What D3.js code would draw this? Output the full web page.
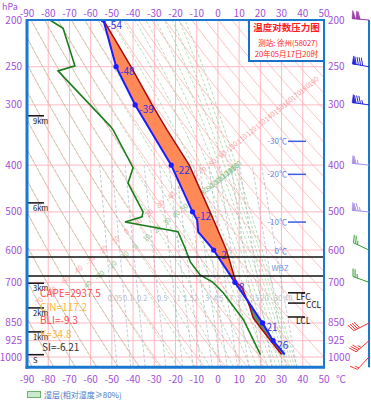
<!DOCTYPE html>
<html lang="zh">
<head>
<meta charset="UTF-8">
<title>温度对数压力图</title>
<style>
    html, body { margin: 0; padding: 0; background: #fff; }
    svg { display: block; font-family: "Noto Sans CJK SC", "Noto Sans", sans-serif; }
</style>
</head>
<body>
<div id="chart"></div>
<script src="https://d3js.org/d3.v7.min.js"></script>
<script>
// ---- values ----
const pressureTicks = [200, 250, 300, 400, 500, 600, 700, 850, 925, 1000];
const tempTicks = [-90, -80, -70, -60, -50, -40, -30, -20, -10, 0, 10, 20, 30, 40, 50];

// environment temperature sounding
const envPressure = [988, 925, 850, 762, 700, 600, 550, 520, 500, 400, 300, 250, 200];
const envTemp = [31.5, 26, 21, 13.8, 8, -2, -9.3, -9.8, -12, -22, -39, -48, -54];
const envMarked = [925, 850, 700, 600, 500, 400, 300, 250, 200];

// dew point
const dewPressure = [988, 908, 837, 736, 700, 676, 635, 594, 550, 525, 512, 500, 436, 405, 338, 332, 255, 249, 208, 200];
const dewTemp = [20, 16, 12, 2.5, -2.3, -8.4, -13, -15.5, -18.8, -43.8, -35.8, -35.3, -42.4, -40, -49.4, -50.8, -75.4, -67.4, -73, -79.2];

// lifted parcel
const parcelPressure = [988, 878, 830, 787, 716, 700, 600, 500, 400, 338, 300, 250, 200];
const parcelTemp = [30, 20.8, 16.6, 15, 11.3, 8.5, 4, -3.7, -13.5, -24, -31, -41, -54];

// background line families
const dryThetas = d3.range(-90, 250, 10);
const moistThetas = d3.range(-90, 170, 10);
const mixRatios = [0.05, 0.1, 0.2, 0.5, 1, 1.5, 2, 3, 4, 5, 7, 10, 15, 20, 30, 40];

// levels
const isoLevelTemps = [-30, -20, -10];
const isoLevelPressures = [357, 418, 525];
const freezingPressure = 620;
const wbzPressure = 679;
const parcelLevelNames = ["LFC", "CCL", "LCL"];
const parcelLevelPressures = [736, 773, 826];
const heightNames = ["9km", "6km", "3km", "2km", "1km", "S"];
const heightPressures = [316, 479, 703, 791, 887, 989];

// indices
const indexNames = ["CAPE", "CIN", "BLI", "K", "SI"];
const indexValues = ["2937.5", "117.2", "-9.3", "34.8", "-6.21"];

// winds (direction deg, speed m/s)
const windPressure = [200, 250, 300, 400, 500, 600, 700, 850, 925, 1000];
const windDir = [275, 280, 278, 276, 275, 295, 290, 243, 229, 223];
const windSpeed = [44, 36, 34, 26, 30, 10, 10, 16, 14, 6];

const stationName = "测站: 徐州(58027)";
const timeLabel = "20年05月17日20时";

// ---- layout ----
const width = 371, height = 400;
const pTop = 200, pBot = 1050;
const x = d3.scaleLinear().domain([-90, 50]).range([27, 324]);
const y = d3.scaleLog().domain([200, 1000]).range([20, 357]);
const xL = x(-90), xR = x(50), yT = y(pTop), yB = y(pBot);

const purple = "#a24fd8";
const K0 = 273.15;

const svg = d3.select("#chart").append("svg")
    .attr("width", width)
    .attr("height", height);

svg.append("defs").append("clipPath").attr("id", "plot")
    .append("rect")
    .attr("x", xL).attr("y", yT)
    .attr("width", xR - xL).attr("height", yB - yT);

// thermodynamics for the background lines
const dryT = (th, p) => (th + K0) * Math.pow(p / 1000, 0.2857) - K0;
const es = t => 6.112 * Math.exp(17.67 * t / (t + 243.5));
function thetaSe(t, p) {
    const e = es(t), r = 622 * e / (p - e), T = t + K0;
    const th = T * Math.pow(1000 / p, 0.2854 * (1 - 0.00028 * r));
    return th * Math.exp((3.376 / T - 0.00254) * r * (1 + 0.00081 * r)) - K0;
}
function moistT(thse, p) {
    const a = Math.log(0.3 * p / 6.112);
    let lo = -130, hi = Math.min(60, 243.5 * a / (17.67 - a));
    if (thetaSe(hi, p) < thse || thetaSe(lo, p) > thse) return NaN;
    for (let i = 0; i < 40; i++) {
        const mid = (lo + hi) / 2;
        if (thetaSe(mid, p) < thse) lo = mid; else hi = mid;
    }
    return (lo + hi) / 2;
}
function mixT(w, p) {
    const e = w * p / (622 + w), a = Math.log(e / 6.112);
    return 243.5 * a / (17.67 - a);
}

const pSteps = d3.range(0, 161).map(i => Math.exp(Math.log(pBot) + (Math.log(pTop) - Math.log(pBot)) * i / 160));
const line = d3.line()
    .defined(d => isFinite(d[1]))
    .x(d => x(d[1]))
    .y(d => y(d[0]));

const bg = svg.append("g").attr("clip-path", "url(#plot)");

// isotherms and isobars
bg.append("g")
    .selectAll("line")
    .data(tempTicks)
    .join("line")
    .attr("x1", d => x(d)).attr("x2", d => x(d))
    .attr("y1", yT).attr("y2", yB)
    .attr("stroke", "#ffb8c2").attr("stroke-width", 1);

bg.append("g")
    .selectAll("line")
    .data(pressureTicks)
    .join("line")
    .attr("x1", xL).attr("x2", xR)
    .attr("y1", d => y(d)).attr("y2", d => y(d))
    .attr("stroke", "#ffb8c2").attr("stroke-width", 1);

// dry adiabats
bg.append("g")
    .selectAll("path")
    .data(dryThetas)
    .join("path")
    .attr("d", th => line(pSteps.map(p => [p, dryT(th, p)])))
    .attr("fill", "none")
    .attr("stroke", "#ffa8a8").attr("stroke-width", 0.7);

// moist adiabats
bg.append("g")
    .selectAll("path")
    .data(moistThetas)
    .join("path")
    .attr("d", th => line(pSteps.map(p => [p, moistT(th, p)])))
    .attr("fill", "none")
    .attr("stroke", "#98cc98").attr("stroke-width", 0.7)
    .attr("stroke-dasharray", "3,2");

// saturation mixing ratio lines
const mixSteps = pSteps.filter(p => p >= 400);
bg.append("g")
    .selectAll("path")
    .data(mixRatios)
    .join("path")
    .attr("d", w => line(mixSteps.map(p => [p, mixT(w, p)])))
    .attr("fill", "none")
    .attr("stroke", "#a9b0c2").attr("stroke-width", 0.7)
    .attr("stroke-dasharray", "3,2");

bg.append("g")
    .attr("font-size", 7.5)
    .attr("fill", "#b4bac8")
    .attr("text-anchor", "middle")
    .selectAll("text")
    .data(mixRatios)
    .join("text")
    .attr("x", w => x(mixT(w, 754)) + 4)
    .attr("y", y(754) + 3)
    .text(w => w);

// labels of the adiabats sit on a slanted guide line
function onGuide(tf, gx, gy, slope) {
    const f = p => {
        let t = tf(p);
        if (!isFinite(t)) t = 100;
        return y(p) - (gy + slope * (x(t) - gx));
    };
    let lo = Math.log(pTop), hi = Math.log(pBot);
    if (!(f(Math.exp(lo)) < 0 && f(Math.exp(hi)) > 0)) return null;
    for (let i = 0; i < 40; i++) {
        const mid = (lo + hi) / 2;
        if (f(Math.exp(mid)) < 0) lo = mid; else hi = mid;
    }
    const p = Math.exp((lo + hi) / 2);
    return { x: x(tf(p)), y: y(p) };
}
const inFree = d => d.pos && d.pos.x > xL + 4 && d.pos.x < xR - 4 && d.pos.y > yT + 4 && d.pos.y < yB - 4
    && !(d.pos.x > 245 && d.pos.y < 66);

bg.append("g")
    .attr("font-size", 7)
    .attr("fill", "#ff9aa0")
    .attr("text-anchor", "middle")
    .selectAll("text")
    .data(dryThetas.map(th => ({ th, pos: onGuide(p => dryT(th, p), 162, 203, -0.8) })).filter(inFree))
    .join("text")
    .attr("transform", d => `translate(${d.pos.x},${d.pos.y}) rotate(-42)`)
    .attr("dy", "0.35em")
    .text(d => d.th);

bg.append("g")
    .attr("font-size", 7)
    .attr("fill", "#8cc48c")
    .attr("text-anchor", "middle")
    .selectAll("text")
    .data(moistThetas.map(th => ({ th, pos: onGuide(p => moistT(th, p), 135, 247, -0.8) })).filter(inFree))
    .join("text")
    .attr("transform", d => `translate(${d.pos.x},${d.pos.y}) rotate(-42)`)
    .attr("dy", "0.35em")
    .text(d => d.th);

// ---- sounding ----
const envAt = d3.scaleLog().domain(envPressure).range(envTemp);
const parcelAt = d3.scaleLog().domain(parcelPressure).range(parcelTemp);
const fillSteps = d3.range(0, 401).map(i => Math.exp(Math.log(988) + (Math.log(200) - Math.log(988)) * i / 400));

const plotG = svg.append("g").attr("clip-path", "url(#plot)");

plotG.append("path")
    .datum(fillSteps)
    .attr("d", d3.area()
        .y(p => y(p))
        .x0(p => x(envAt(p)))
        .x1(p => x(Math.max(envAt(p), parcelAt(p)))))
    .attr("fill", "#ff8a58");

plotG.append("path")
    .datum(fillSteps)
    .attr("d", d3.area()
        .y(p => y(p))
        .x0(p => x(parcelAt(p)))
        .x1(p => x(Math.max(envAt(p), parcelAt(p)))))
    .attr("fill", "#5f8f6c");

plotG.append("path")
    .datum(d3.zip(dewPressure, dewTemp))
    .attr("d", line)
    .attr("fill", "none")
    .attr("stroke", "#1b7d1b").attr("stroke-width", 1.6);

plotG.append("path")
    .datum(d3.zip(parcelPressure, parcelTemp))
    .attr("d", line)
    .attr("fill", "none")
    .attr("stroke", "#a80c0c").attr("stroke-width", 1.5);

plotG.append("path")
    .datum(d3.zip(envPressure, envTemp))
    .attr("d", line)
    .attr("fill", "none")
    .attr("stroke", "#1c1cff").attr("stroke-width", 2);

const marks = plotG.append("g")
    .selectAll("g")
    .data(envMarked)
    .join("g")
    .attr("transform", p => `translate(${x(envAt(p))},${y(p)})`);
marks.append("circle").attr("r", 2.6).attr("fill", "#1c1cff");
marks.append("text")
    .attr("x", 4).attr("y", 8.5)
    .attr("font-size", 10)
    .attr("fill", "#3434e8")
    .text(p => Math.round(envAt(p)));

// freezing level and wet-bulb zero
svg.append("g")
    .selectAll("line")
    .data([freezingPressure, wbzPressure])
    .join("line")
    .attr("x1", xL).attr("x2", xR)
    .attr("y1", d => y(d)).attr("y2", d => y(d))
    .attr("stroke", "#111").attr("stroke-width", 1.5);

const isoG = svg.append("g").attr("font-size", 8).attr("fill", "#5f7fe6");
isoLevelTemps.forEach((t, i) => {
    const yy = y(isoLevelPressures[i]);
    isoG.append("line")
        .attr("x1", 288).attr("x2", 306)
        .attr("y1", yy).attr("y2", yy)
        .attr("stroke", "#3a5ee0").attr("stroke-width", 1.5);
    isoG.append("text")
        .attr("x", 287).attr("y", yy).attr("dy", "0.35em")
        .attr("text-anchor", "end")
        .text(`${t}℃`);
});
isoG.append("text")
    .attr("x", 287).attr("y", y(freezingPressure) - 2.5)
    .attr("text-anchor", "end")
    .text("0℃");
isoG.append("text")
    .attr("x", 280).attr("y", y(wbzPressure) - 5)
    .attr("text-anchor", "middle")
    .attr("fill", "#7d98e4")
    .text("WBZ");

// LFC / CCL / LCL
const lvG = svg.append("g").attr("font-size", 8.5).attr("fill", "#111");
parcelLevelNames.forEach((name, i) => {
    const yy = y(parcelLevelPressures[i]);
    lvG.append("line")
        .attr("x1", 288).attr("x2", 305)
        .attr("y1", yy).attr("y2", yy)
        .attr("stroke", "#111").attr("stroke-width", 1.5);
    lvG.append("text")
        .attr("x", name === "CCL" ? 306 : 296)
        .attr("y", yy + (name === "CCL" ? 5 : 7))
        .text(name);
});

// height marks
const hG = svg.append("g").attr("font-size", 7.5).attr("fill", "#111");
heightNames.forEach((name, i) => {
    const yy = y(heightPressures[i]);
    hG.append("line")
        .attr("x1", xL).attr("x2", 44)
        .attr("y1", yy).attr("y2", yy)
        .attr("stroke", "#111").attr("stroke-width", 1.5);
    hG.append("text").attr("x", 33).attr("y", yy + 8).text(name);
});

// stability indices
const indexColors = ["#ff4a4a", "#ffb43a", "#ff4a4a", "#ffb43a", "#333"];
svg.append("g")
    .attr("font-size", 10)
    .selectAll("text")
    .data(indexNames)
    .join("text")
    .attr("x", (d, i) => i === 4 ? 42 : 40)
    .attr("y", (d, i) => 297 + i * 13.5)
    .attr("fill", (d, i) => indexColors[i])
    .text((d, i) => `${d}=${indexValues[i]}`);

// title box
svg.append("rect")
    .attr("x", 249).attr("y", yT)
    .attr("width", xR - 249).attr("height", 41)
    .attr("fill", "#fff")
    .attr("stroke", "#1a6fc8").attr("stroke-width", 2);
const tG = svg.append("g").attr("text-anchor", "middle").attr("fill", "#ff2020");
tG.append("text").attr("x", 286.5).attr("y", 31).attr("font-size", 9.5).attr("font-weight", "bold").text("温度对数压力图");
tG.append("text").attr("x", 288).attr("y", 46).attr("font-size", 7.5).text(stationName);
tG.append("text").attr("x", 286.5).attr("y", 57).attr("font-size", 7.5).text(timeLabel);

// plot frame
const frame = svg.append("g").attr("stroke", "#1a78d0").attr("fill", "none");
frame.append("line").attr("x1", xL).attr("x2", xR).attr("y1", yT).attr("y2", yT).attr("stroke-width", 2);
frame.append("line").attr("x1", xR).attr("x2", xR).attr("y1", yT).attr("y2", yB).attr("stroke-width", 2);
frame.append("line").attr("x1", xL).attr("x2", xL).attr("y1", yT - 1).attr("y2", yB + 1.5).attr("stroke-width", 3);
frame.append("line").attr("x1", xL - 1.5).attr("x2", xR + 1).attr("y1", yB).attr("y2", yB).attr("stroke-width", 3);
frame.append("line").attr("x1", 369).attr("x2", 369).attr("y1", yT).attr("y2", yB).attr("stroke-width", 2);

// axes labels
const axG = svg.append("g").attr("font-size", 10).attr("fill", purple);
axG.append("g").attr("text-anchor", "middle")
    .selectAll("text").data(tempTicks).join("text")
    .attr("x", d => x(d)).attr("y", 16.5).text(d => d);
axG.append("g").attr("text-anchor", "middle")
    .selectAll("text").data(tempTicks).join("text")
    .attr("x", d => x(d)).attr("y", 383).text(d => d);
axG.append("g").attr("text-anchor", "end")
    .selectAll("text").data(pressureTicks).join("text")
    .attr("x", 22).attr("y", d => y(d)).attr("dy", "0.35em").text(d => d);
axG.append("g").attr("text-anchor", "start")
    .selectAll("text").data(pressureTicks).join("text")
    .attr("x", 328).attr("y", d => y(d)).attr("dy", "0.35em").text(d => d);
axG.append("text").attr("x", 2).attr("y", 10).attr("font-size", 9).text("hPa");
axG.append("text").attr("x", 341).attr("y", 383).attr("text-anchor", "middle").text("℃");

// wind barbs
const windColor = p => p <= 200 ? "#9b3aa6" : p <= 300 ? "#2323e0" : p <= 500 ? "#aa92e6" : p <= 700 ? "#2f9f2f" : "#ff3434";
const wG = svg.append("g");
windPressure.forEach((p, i) => {
    const col = windColor(p);
    const ax = 369, ay = y(p);
    const rad = windDir[i] * Math.PI / 180;
    const tx = Math.sin(rad), ty = -Math.cos(rad);
    const fx = Math.cos(rad), fy = Math.sin(rad);
    const L = 17, fl = 8;
    const g = wG.append("g").attr("stroke", col).attr("fill", col).attr("stroke-width", 1);
    g.append("line").attr("x1", ax).attr("y1", ay).attr("x2", ax + tx * L).attr("y2", ay + ty * L);
    let s = windSpeed[i], pos = 0;
    const flags = Math.floor(s / 20); s -= flags * 20;
    const full = Math.floor(s / 4); s -= full * 4;
    const half = s >= 2 ? 1 : 0;
    const at = d => [ax + tx * (L - d), ay + ty * (L - d)];
    for (let k = 0; k < flags; k++) {
        const b1 = at(pos), b2 = at(pos + 3.5);
        const apex = [b1[0] + fx * fl, b1[1] + fy * fl];
        g.append("path").attr("d", `M${b1}L${apex}L${b2}Z`).attr("stroke-width", 0.6);
        pos += 4;
    }
    for (let k = 0; k < full; k++) {
        const b = at(pos);
        g.append("line").attr("x1", b[0]).attr("y1", b[1])
            .attr("x2", b[0] + fl * (fx * 0.94 + tx * 0.34))
            .attr("y2", b[1] + fl * (fy * 0.94 + ty * 0.34));
        pos += 2.2;
    }
    if (half) {
        const b = at(pos + (pos === 0 ? 2.2 : 0));
        g.append("line").attr("x1", b[0]).attr("y1", b[1])
            .attr("x2", b[0] + fl * 0.5 * (fx * 0.94 + tx * 0.34))
            .attr("y2", b[1] + fl * 0.5 * (fy * 0.94 + ty * 0.34));
    }
});

// legend
svg.append("rect")
    .attr("x", 27.5).attr("y", 391.5).attr("width", 13).attr("height", 6)
    .attr("fill", "#cde9cd").attr("stroke", "#6ab36a");
svg.append("text")
    .attr("x", 44).attr("y", 398)
    .attr("font-size", 8)
    .attr("fill", "#4a78c8")
    .text("湿层(相对湿度≥80%)");
</script>
</body>
</html>
